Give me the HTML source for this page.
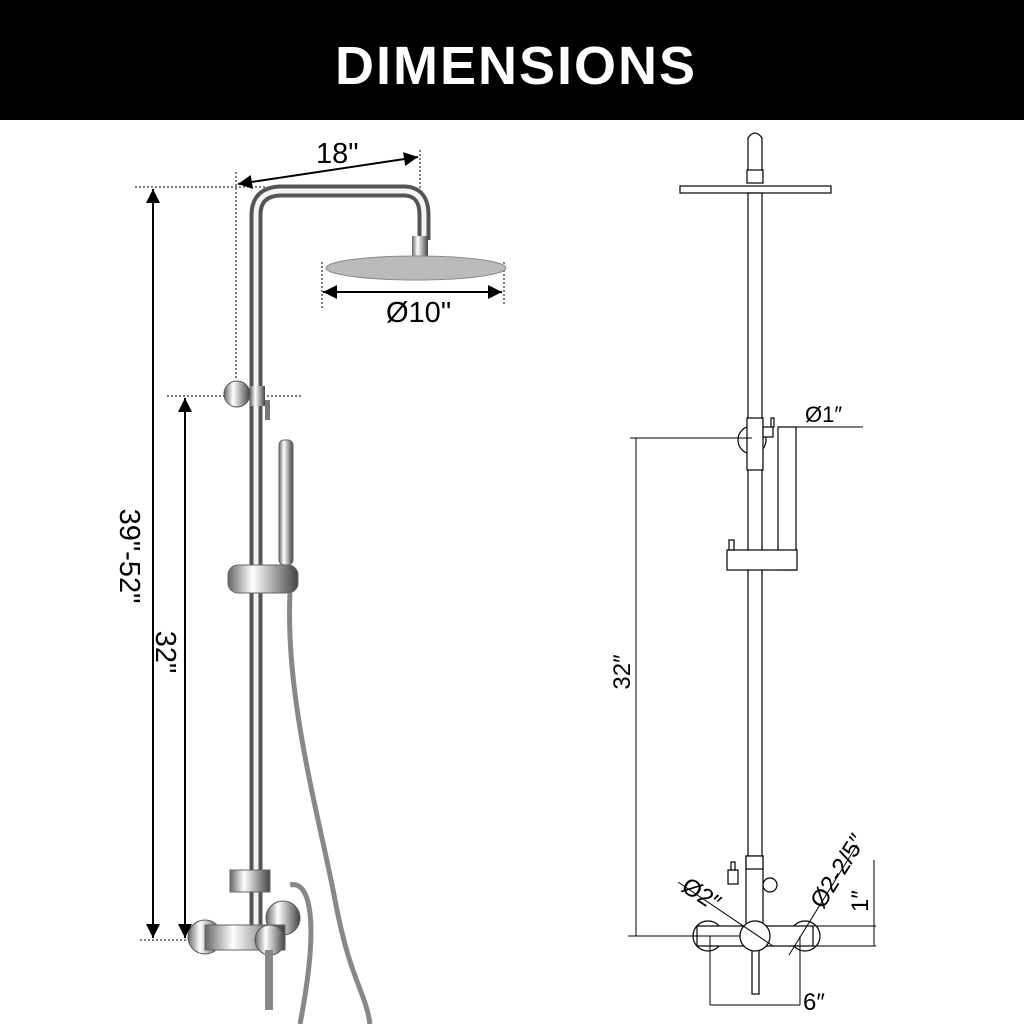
<!DOCTYPE html><html><head><style>body{margin:0;background:#fff}svg{display:block}text{font-family:"Liberation Sans",sans-serif}</style></head><body>
<svg width="1024" height="1024" viewBox="0 0 1024 1024" xmlns="http://www.w3.org/2000/svg">
<defs><linearGradient id="ch" x1="0" x2="1"><stop offset="0" stop-color="#666"/><stop offset=".35" stop-color="#fff"/><stop offset=".7" stop-color="#999"/><stop offset="1" stop-color="#444"/></linearGradient>
<marker id="a" viewBox="0 0 10 10" refX="10" refY="5" markerWidth="9" markerHeight="7" orient="auto-start-reverse"><path d="M0,0L10,5L0,10z" fill="#000"/></marker></defs>
<rect width="1024" height="120" fill="#000"/>
<text x="516" y="84" fill="#fff" font-size="54" font-weight="bold" text-anchor="middle" letter-spacing="2">DIMENSIONS</text>
<!-- left photo -->
<g fill="none" stroke="#000" stroke-width="1" stroke-dasharray="2,2">
<line x1="135" y1="187" x2="270" y2="187"/><line x1="236" y1="172" x2="236" y2="380"/><line x1="420" y1="150" x2="420" y2="190"/>
<line x1="167" y1="396" x2="303" y2="396"/><line x1="322" y1="262" x2="322" y2="310"/><line x1="504" y1="262" x2="504" y2="305"/><line x1="140" y1="940" x2="200" y2="940"/></g>
<path d="M256,940 V215 Q256,192 280,191 H405 Q424,192 424,215 V240" fill="none" stroke="#555" stroke-width="13"/>
<path d="M256,940 V215 Q256,192 280,191 H405 Q424,192 424,215 V240" fill="none" stroke="#f4f4f4" stroke-width="5"/>
<rect x="412" y="236" width="16" height="20" fill="url(#ch)"/>
<ellipse cx="416" cy="268" rx="90" ry="12" fill="#bbb" stroke="#888"/>
<circle cx="237" cy="394" r="13" fill="url(#ch)" stroke="#555"/>
<rect x="250" y="386" width="15" height="20" fill="url(#ch)"/><rect x="265" y="400" width="5" height="20" fill="#777"/>
<rect x="279" y="440" width="14" height="125" rx="5" fill="url(#ch)" stroke="#666"/>
<rect x="228" y="565" width="70" height="28" rx="10" fill="url(#ch)" stroke="#666"/>
<path d="M290,593 C285,700 320,820 335,900 S365,990 370,1024" fill="none" stroke="#888" stroke-width="5"/>
<path d="M290,885 C310,880 320,920 300,1024" fill="none" stroke="#888" stroke-width="5"/>
<rect x="230" y="870" width="40" height="22" fill="url(#ch)" stroke="#666"/>
<circle cx="205" cy="937" r="17" fill="url(#ch)" stroke="#555"/><circle cx="283" cy="918" r="17" fill="url(#ch)" stroke="#555"/>
<rect x="205" y="925" width="80" height="25" fill="url(#ch)" stroke="#666"/><circle cx="270" cy="940" r="15" fill="url(#ch)" stroke="#555"/>
<rect x="265" y="950" width="8" height="60" fill="#888"/>
<g stroke="#000" stroke-width="2" marker-start="url(#a)" marker-end="url(#a)">
<line x1="238" y1="184" x2="418" y2="157"/><line x1="323" y1="292" x2="502" y2="292"/>
<line x1="153" y1="189" x2="153" y2="938"/><line x1="185" y1="398" x2="185" y2="938"/></g>
<text x="316" y="163" font-size="29">18"</text>
<text x="386" y="322" font-size="29">Ø10"</text>
<text transform="translate(120,556) rotate(90)" font-size="29" text-anchor="middle">39"-52"</text>
<text transform="translate(156,652) rotate(90)" font-size="29" text-anchor="middle">32"</text>
<!-- right drawing -->
<g fill="#fff" stroke="#000" stroke-width="1.2">
<path d="M748,182 V138 Q755,128 762,138 V182"/><rect x="747" y="170" width="16" height="13"/>
<rect x="680" y="186" width="151" height="7"/>
<rect x="748" y="193" width="14" height="740"/>
<circle cx="752" cy="440" r="14"/><rect x="747" y="418" width="16" height="52"/>
<rect x="763" y="427" width="10" height="10"/><rect x="771" y="418" width="3" height="9"/>
<rect x="778" y="427" width="18" height="143"/>
<rect x="727" y="550" width="70" height="20"/><rect x="729" y="540" width="5" height="10"/>
<rect x="746" y="856" width="17" height="70"/><rect x="746" y="856" width="17" height="13"/>
<rect x="728" y="870" width="10" height="14"/><rect x="731" y="862" width="4" height="8"/>
<circle cx="770" cy="885" r="7"/>
<circle cx="708" cy="936" r="15"/><circle cx="805" cy="936" r="15"/>
<rect x="697" y="926" width="116" height="20"/>
<rect x="752" y="948" width="7" height="46"/>
<circle cx="755" cy="936" r="15"/>
</g>
<g stroke="#000" stroke-width="1" fill="none">
<line x1="630" y1="438" x2="752" y2="438"/><line x1="636" y1="438" x2="636" y2="936"/><line x1="628" y1="936" x2="740" y2="936"/>
<line x1="778" y1="427" x2="863" y2="427"/>
<line x1="678" y1="882" x2="773" y2="946"/><line x1="857" y1="845" x2="789" y2="955"/>
<line x1="813" y1="926" x2="876" y2="926"/><line x1="813" y1="946" x2="876" y2="946"/><line x1="874" y1="860" x2="874" y2="946"/>
<line x1="710" y1="936" x2="710" y2="1005"/><line x1="800" y1="936" x2="800" y2="1005"/><line x1="710" y1="1005" x2="800" y2="1005"/>
</g>
<text x="805" y="422" font-size="22">Ø1″</text>
<text transform="translate(630,672) rotate(-90)" font-size="24" text-anchor="middle">32″</text>
<text transform="translate(680,890) rotate(33)" font-size="24">Ø2″</text>
<text transform="translate(823,910) rotate(-58)" font-size="24">Ø2-2/5″</text>
<text transform="translate(868,912) rotate(-90)" font-size="24">1″</text>
<text x="803" y="1010" font-size="24">6″</text>
</svg></body></html>
